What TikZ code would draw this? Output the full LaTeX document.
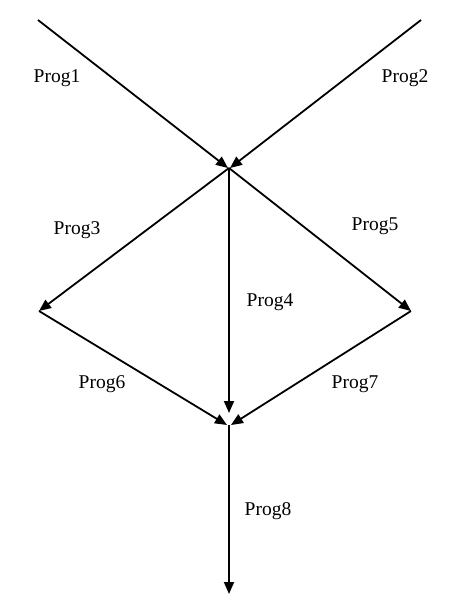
\documentclass[tikz,border=0pt]{standalone}
\usepackage{fontspec}
\setmainfont{Liberation Serif}
\usetikzlibrary{arrows.meta,calc}
\begin{document}
\begin{tikzpicture}[x=1pt,y=-1pt,
  conn/.style={line width=1.8pt,-{Triangle[length=12pt,width=10pt]}},
  lbl/.style={font=\fontsize{19.5}{22}\selectfont,inner sep=0pt}]
\useasboundingbox (0,0) rectangle (451,603);
\coordinate (s1) at (38,20);
\coordinate (s2) at (421,20);
\coordinate (A) at (229,168);
\coordinate (L) at (39,311);
\coordinate (R) at (411,311);
\coordinate (B) at (229,425);
\coordinate (E) at (229,594);
\coordinate (Al) at (228,168);
\coordinate (Ar) at (230,168);
\coordinate (Bl) at (227,425);
\coordinate (Br) at (231,425);
\draw[conn] (s1) -- (Al);
\draw[conn] (s2) -- (Ar);
\draw[conn] (A) -- (L);
\draw[conn] (A) -- (R);
\draw[conn,shorten >=12pt] (A) -- (B);
\draw[conn] (L) -- (Bl);
\draw[conn] (R) -- (Br);
\draw[conn] (B) -- (E);
\node[lbl] (p1) at (57,78) {Prog1};
\node[lbl] (p2) at (405,78) {Prog2};
\node[lbl] (p3) at (77,230) {Prog3};
\node[lbl] (p4) at (270,302) {Prog4};
\node[lbl] (p5) at (375,226) {Prog5};
\node[lbl] (p6) at (102,384) {Prog6};
\node[lbl] (p7) at (355,384) {Prog7};
\node[lbl] (p8) at (268,511) {Prog8};
\end{tikzpicture}
\end{document}
